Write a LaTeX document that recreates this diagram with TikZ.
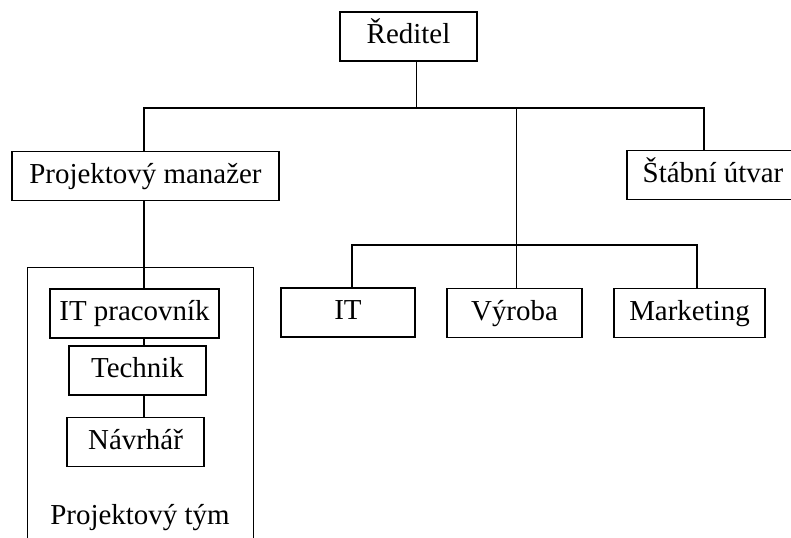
\documentclass[tikz,border=0pt]{standalone}
\usepackage{fontspec}
\setmainfont{Liberation Serif}
\usepackage{tikz}

\begin{document}
\begin{tikzpicture}[
                        x=0.75pt,
                        y=-0.75pt,
                        every node/.style={
                                font=\fontsize{21.7}{26}\selectfont,
                                text height=16.3pt,
                                text depth=5.4pt,
                            },
                        box/.style={
                                draw,
                                line width=1pt,
                                inner sep=0pt,
                                minimum height=36.75pt,
                            },
                        link/.style={line width=1pt},
                    ]

                    \clip (0,0) rectangle (791,537);

                    \node[box,minimum width=102.75pt] (red) at (408.5,36.5) {Ředitel};
                    \node[box,minimum width=200.25pt] (pm) at (145.5,176) {Projektový manažer};
                    \node[box,minimum width=129pt] (stab) at (713,175) {Štábní útvar};

                    \node[box,minimum width=100.5pt] (it) at (348,312.5) {IT};
                    \node[box,minimum width=101.25pt] (vyr) at (514.5,313) {Výroba};
                    \node[box,minimum width=113.25pt] (mkt) at (689.5,313) {Marketing};

                    \draw[line width=0.6pt] (27,267) rectangle (253,560);
                    \node[box,minimum width=126.75pt] (itp) at (134.5,313.5) {IT pracovník};
                    \node[box,minimum width=102.75pt] (tech) at (137.5,370.5) {Technik};
                    \node[box,minimum width=102.75pt] (nav) at (135.5,442) {Návrhář};
                    \node[anchor=base] (tym) at (140,524) {Projektový tým};

                    \coordinate (top) at (416.7,108);
                    \coordinate (mid) at (516.7,108);
                    \coordinate (sr) at (704,108);
                    \coordinate (lc) at (144,108);
                    \coordinate (d1) at (352,245);
                    \coordinate (d2) at (697,245);

                    \draw[link] (red.south -| top) -- (top);
                    \draw[link] (lc |- pm.north) -- (lc) -- (sr) -- (sr |- stab.north);
                    \draw[link] (mid) -- (mid |- vyr.north);
                    \draw[link] (d1 |- it.north) -- (d1) -- (d2) -- (d2 |- mkt.north);

                    \draw[link] (lc |- pm.south) -- (lc |- itp.north);
                    \draw[link] (lc |- itp.south) -- (lc |- tech.north);
                    \draw[link] (lc |- tech.south) -- (lc |- nav.north);
                \end{tikzpicture}
\end{document}
